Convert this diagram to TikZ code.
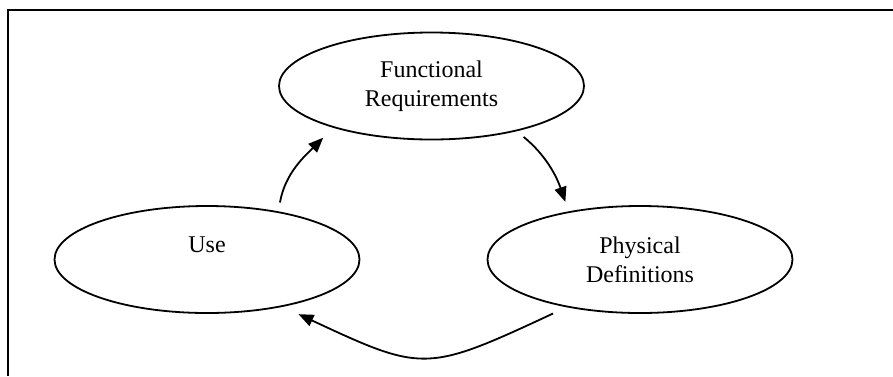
\documentclass[tikz,border=0pt]{standalone}
\usepackage{fontspec}
\setmainfont{Liberation Serif}
\usetikzlibrary{shapes.geometric,arrows.meta}

\begin{document}
\begin{tikzpicture}[x=0.5pt,y=-0.5pt,
    phase/.style={draw, ellipse, line width=0.9pt, minimum width=152.5pt,
        minimum height=53.5pt, inner sep=0pt, align=center,
        font=\fontsize{12}{14.5}\selectfont},
    flow/.style={line width=0.9pt, -{Triangle[length=7.5pt,width=6pt]}}]
    \useasboundingbox (0,0) rectangle (893,376);
    \draw[line width=1.3pt] (893,10) -- (8,10) -- (8,376);
    \node [phase] (funcreq) at (431.5,86) {Functional\\Requirements};
    \node [phase] (use) at (207,259.5) {Use\\~};
    \node [phase] (physdef) at (640,259.5) {Physical\\Definitions};
    \draw [flow, shorten <=4.5pt, shorten >=7pt] (use.34) to[out=80,in=225] (funcreq.203);
    \draw [flow, shorten <=4.5pt, shorten >=5pt] (funcreq.332) to[out=-39,in=109] (physdef.146);
    \draw [flow, shorten <=7.4pt, shorten >=8.7pt] (physdef.213) to[out=205,in=-25,looseness=1.4] (use.328);
\end{tikzpicture}
\end{document}
